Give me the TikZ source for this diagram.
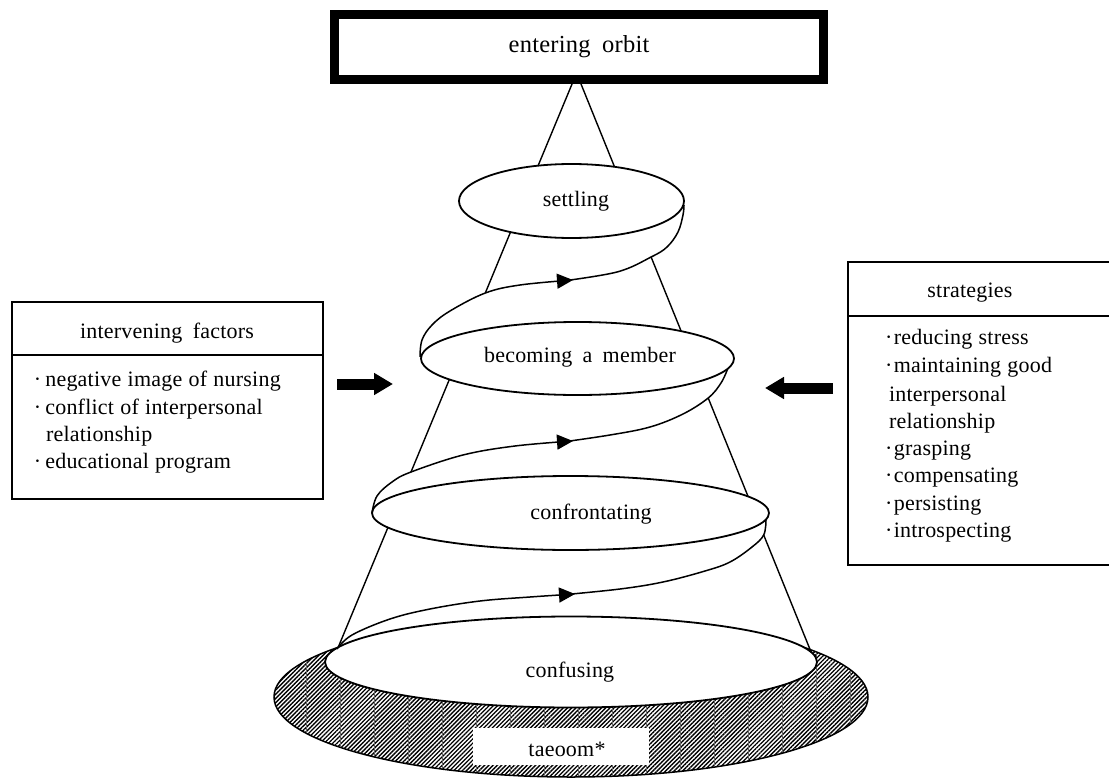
\documentclass[tikz,border=0pt]{standalone}
\usepackage{fontspec}
\setmainfont{Liberation Serif}[LetterSpace=1,WordSpace=1.8]
\newfontfamily\itemfont{Liberation Serif}[LetterSpace=1,WordSpace=1.1]
\usetikzlibrary{shapes.geometric,arrows.meta,patterns.meta}
\begin{document}
\begin{tikzpicture}[x=1pt,y=-1pt,
  every node/.style={inner sep=0pt, outer sep=0pt},
  lbl/.style={font=\fontsize{22}{26}\selectfont, anchor=base},
  item/.style={font=\itemfont\fontsize{22}{26}\selectfont, anchor=base west},
  stage/.style={ellipse, draw, line width=1.8pt, fill=white},
  cone/.style={line width=1.4pt},
  spiral/.style={line width=1.5pt},
  spiralarrow/.style={line width=1.5pt, -{Triangle[length=16pt 0, width=15pt 0]}},
  blockarrow/.style={line width=11pt, -{Triangle[length=19pt 0, width=21pt 0]}},
  infobox/.style={draw, line width=2pt, fill=white}
]
\useasboundingbox (0,0) rectangle (1109,779);

% hatched base (taeoom)
\node[ellipse, draw, line width=1.5pt, minimum width=594pt, minimum height=160pt,
      pattern={Lines[angle=45,distance=3pt,line width=1.35pt]}] (base) at (571,697) {};
\path[pattern={Lines[angle=90,distance=34pt,line width=0.35pt]}, pattern color=black!60] (571,697) ellipse [x radius=296pt, y radius=79pt];
\node[fill=white, minimum width=176pt, minimum height=37pt] (taeoombox) at (561,746.5) {};
\node[lbl] (taeoom) at (567,756) {taeoom*};

% cone side lines
\coordinate (la0) at (573.7,80);  \coordinate (la1) at (536.3,170);
\coordinate (lb0) at (512.2,228); \coordinate (lb1) at (485.3,293);
\coordinate (lc0) at (450.8,376); \coordinate (lc1) at (411,472);
\coordinate (ld0) at (390.2,522); \coordinate (ld1) at (335,655);
\coordinate (ra0) at (579.4,80);  \coordinate (ra1) at (615.8,170);
\coordinate (rb0) at (651.1,257); \coordinate (rb1) at (682.3,334);
\coordinate (rc0) at (708.2,398); \coordinate (rc1) at (750.3,502);
\coordinate (rd0) at (763.7,535); \coordinate (rd1) at (813.5,658);
\draw[cone] (la0) -- (la1);
\draw[cone] (lb0) -- (lb1);
\draw[cone] (lc0) -- (lc1);
\draw[cone] (ld0) -- (ld1);
\draw[cone] (ra0) -- (ra1);
\draw[cone] (rb0) -- (rb1);
\draw[cone] (rc0) -- (rc1);
\draw[cone] (rd0) -- (rd1);

% confusing
\node[stage, minimum width=492pt, minimum height=91pt] (confusing) at (571,662) {};
\node[lbl] (confusingtext) at (570,677) {confusing};

% spiral 1
\draw[spiralarrow] plot[smooth, tension=0.6] coordinates {(337,649) (352,635) (390,619) (430,609) (480,601) (530,597) (575,594)};
\draw[spiral] plot[smooth, tension=0.6] coordinates {(561,595) (620,589) (663,582) (705,571) (730,562) (752,547) (763.7,535) (766,520)};

% confrontating
\node[stage, minimum width=397pt, minimum height=74pt] (confrontating) at (570.5,513) {};
\node[lbl] (confrontatingtext) at (591,519) {confrontating};

% spiral 2
\draw[spiralarrow] plot[smooth, tension=0.6] coordinates {(372,513) (377,496) (392,482) (411,472) (463,455) (515,446) (573,441)};
\draw[spiral] plot[smooth, tension=0.6] coordinates {(559,442.5) (610,435) (650,427) (683,414) (708.2,398) (721,383) (728,368)};

% becoming a member
\node[stage, minimum width=313pt, minimum height=73pt] (becoming) at (577.5,358.5) {};
\node[lbl] (becomingtext) at (580,362.5) {becoming a member};

% spiral 3
\draw[spiralarrow] plot[smooth, tension=0.6] coordinates {(420,357) (422,340) (432,325) (450,311) (485.3,293) (520,285) (573,280)};
\draw[spiral] plot[smooth, tension=0.6] coordinates {(559,281.5) (617,272) (651.1,257) (667,247) (678,232) (683,215) (684,205)};

% settling
\node[stage, minimum width=225pt, minimum height=74pt] (settling) at (571.5,201) {};
\node[lbl] (settlingtext) at (576,206.5) {settling};

% entering orbit
\node[draw, fill=white, line width=9pt, minimum width=489pt, minimum height=65pt,
      font=\fontsize{24.5}{28}\selectfont] (orbit) at (579,47) {entering orbit};

% intervening factors box
\node[infobox, minimum width=311pt, minimum height=197pt] (lbox) at (167.5,400.5) {};
\coordinate (lsep) at (0,355);
\draw[line width=1.6pt] (lbox.west |- lsep) -- (lbox.east |- lsep);
\node[lbl] (lhead) at (167,338) {intervening factors};
\node[item] (li1) at (34,386.5) {·\hspace{4pt}negative image of nursing};
\node[item] (li2) at (34,414) {·\hspace{4pt}conflict of interpersonal};
\node[item] (li3) at (46,441) {relationship};
\node[item] (li4) at (34,468) {·\hspace{4pt}educational program};

% strategies box
\node[infobox, minimum width=262pt, minimum height=303pt] (rbox) at (979,413.5) {};
\coordinate (rsep) at (0,316);
\draw[line width=1.6pt] (rbox.west |- rsep) -- (rbox.east |- rsep);
\node[lbl] (rhead) at (970,297) {strategies};
\node[item] (ri1) at (885,344.5) {·\hspace{1.5pt}reducing stress};
\node[item] (ri2) at (885,372.5) {·\hspace{1.5pt}maintaining good};
\node[item] (ri3) at (889,401) {interpersonal};
\node[item] (ri4) at (889,428) {relationship};
\node[item] (ri5) at (885,455.5) {·\hspace{1.5pt}grasping};
\node[item] (ri6) at (885,482.5) {·\hspace{1.5pt}compensating};
\node[item] (ri7) at (885,510) {·\hspace{1.5pt}persisting};
\node[item] (ri8) at (885,537.5) {·\hspace{1.5pt}introspecting};

% block arrows
\coordinate (lain) at (337,384);
\coordinate (laout) at (393,384);
\coordinate (rain) at (833,388);
\coordinate (raout) at (765,388);
\draw[blockarrow] (lain) -- (laout);
\draw[blockarrow] (rain) -- (raout);
\end{tikzpicture}
\end{document}
